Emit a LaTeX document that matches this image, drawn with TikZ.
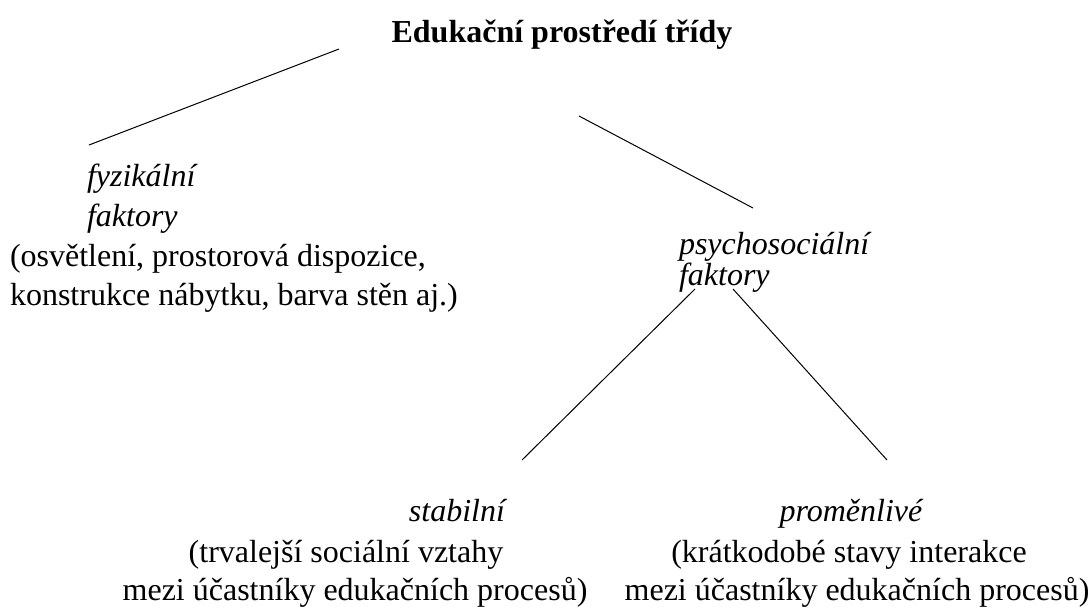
\documentclass[tikz,border=0pt]{standalone}
\usepackage{fontspec}
\setmainfont{Liberation Serif}
\begin{document}
\begin{tikzpicture}[x=1pt,y=-1pt,
  every node/.style={inner sep=0pt,outer sep=0pt,font=\fontsize{32}{38}\selectfont},
  lw/.style={anchor=base west},
  lc/.style={anchor=base},
  le/.style={anchor=base east},
  term/.style={font=\fontsize{32}{38}\selectfont\itshape},
  branch/.style={draw=black,line width=1pt}]
\useasboundingbox (0,0) rectangle (1091,606);

% root
\node[lc,font=\fontsize{32}{38}\selectfont\bfseries] (root) at (562,42) {Edukační prostředí třídy};

% physical factors
\node[lw,term] (fyz1) at (87,186) {fyzikální};
\node[lw,term] (fyz2) at (87,226) {faktory};
\node[lw] (fyz3) at (10,266) {(osvětlení, prostorová dispozice,};
\node[lw] (fyz4) at (10,305) {konstrukce nábytku, barva stěn aj.)};

% psychosocial factors
\node[lw,term] (psy1) at (679,254) {psychosociální};
\node[lw,term] (psy2) at (679,285) {faktory};

% stable
\node[le,term] (sta1) at (505,521) {stabilní};
\node[lc] (sta2) at (346,562) {(trvalejší sociální vztahy};
\node[lc] (sta3) at (355,600) {mezi účastníky edukačních procesů)};

% variable
\node[lc,term] (pro1) at (851,521) {proměnlivé};
\node[lc] (pro2) at (849,562) {(krátkodobé stavy interakce};
\node[lc] (pro3) at (857,600) {mezi účastníky edukačních procesů)};

% branch end points
\coordinate (rootL) at (339,49);
\coordinate (fyzT) at (89,145);
\coordinate (rootR) at (579,116);
\coordinate (psyT) at (753,208);
\coordinate (psyL) at (695,289);
\coordinate (staT) at (522,460);
\coordinate (psyR) at (733,289);
\coordinate (proT) at (887,460);

\draw[branch] (rootL) -- (fyzT);
\draw[branch] (rootR) -- (psyT);
\draw[branch] (psyL) -- (staT);
\draw[branch] (psyR) -- (proT);
\end{tikzpicture}
\end{document}
